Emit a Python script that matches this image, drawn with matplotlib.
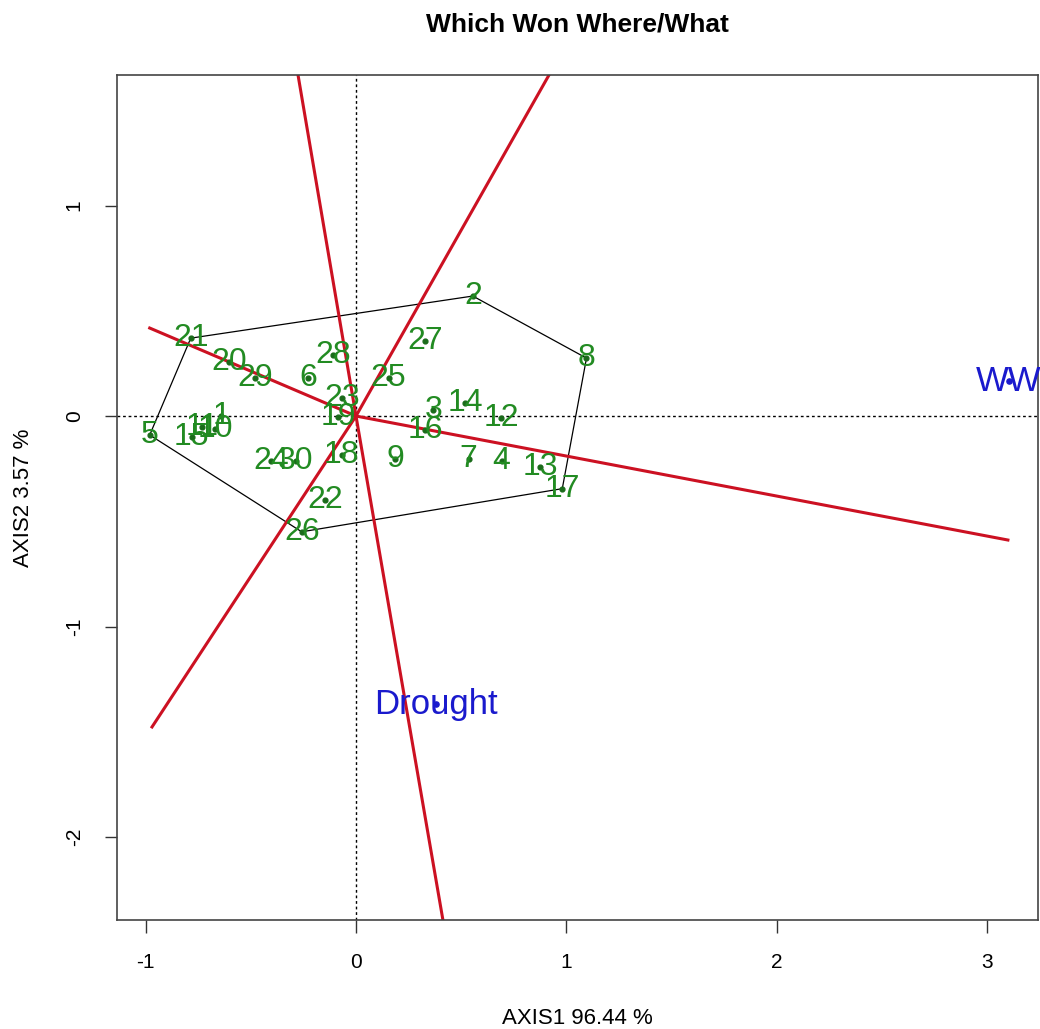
import matplotlib
matplotlib.use("Agg")
import matplotlib.pyplot as plt
import numpy as np

plt.rcParams['font.family'] = ['Liberation Sans', 'DejaVu Sans']
plt.rcParams['axes.unicode_minus'] = False

# genotype scores (AXIS1, AXIS2)
gen_labels = [str(i) for i in range(1, 31)]
gen_x = [-0.64, 0.555, 0.367, 0.692, -0.98, -0.226, 0.535, 1.095, 0.185, -0.67,
         -0.73, 0.69, 0.874, 0.518, -0.78, 0.328, 0.98, -0.068, -0.086, -0.603,
         -0.785, -0.148, -0.067, -0.404, 0.155, -0.258, 0.328, -0.108, -0.478, -0.285]
gen_y = [0.0, 0.57, 0.028, -0.215, -0.09, 0.18, -0.205, 0.275, -0.203, -0.06,
         -0.05, -0.01, -0.24, 0.06, -0.1, -0.067, -0.345, -0.185, -0.003, 0.257,
         0.37, -0.4, 0.084, -0.214, 0.18, -0.55, 0.355, 0.29, 0.18, -0.214]

# environment scores
env_labels = ['WW', 'Drought']
env_x = [3.1, 0.38]
env_y = [0.165, -1.37]

# convex hull, genotype order
hull = ['21', '2', '8', '17', '26', '5']

# end points of the rays drawn from the origin
ray_x = [-0.98, -0.34, 1.132, -0.969, 0.483, 3.097]
ray_y = [0.418, 2.0, 2.0, -1.477, -2.8, -0.589]

xticks = [-1, 0, 1, 2, 3]
yticks = [-2, -1, 0, 1]

fig = plt.figure(figsize=(10.4, 10.29), dpi=100)
ax = fig.add_axes([117 / 1040, 109 / 1029, 921 / 1040, 845 / 1029])
ax.set_xlim(-1.1354, 3.240)
ax.set_ylim(-2.394, 1.62)

ax.axhline(0, color='black', lw=1, ls=(0, (2, 2)))
ax.axvline(0, color='black', lw=1, ls=(0, (2, 2)))

idx = [gen_labels.index(h) for h in hull] + [gen_labels.index(hull[0])]
ax.plot(np.array(gen_x)[idx], np.array(gen_y)[idx], color='black', lw=0.9)

for rx, ry in zip(ray_x, ray_y):
    ax.plot([0, rx], [0, ry], color='#cc1122', lw=2.2)

ax.scatter(gen_x, gen_y, s=12, color='#1a6b1a', zorder=3)
for lab, x, y in zip(gen_labels, gen_x, gen_y):
    ax.text(x, y, lab, color='#228b22', fontsize=23, ha='center', va='center',
            zorder=4)

ax.scatter(env_x, env_y, s=14, color='#1a1acd', zorder=3)
for lab, x, y in zip(env_labels, env_x, env_y):
    ax.text(x, y, lab, color='#1a1acd', fontsize=25, ha='center', va='center',
            zorder=4)

ax.set_xticks(xticks)
ax.set_yticks(yticks)
ax.set_yticklabels([str(t) for t in yticks], rotation=90, va='center')
ax.tick_params(length=9, width=1, pad=15, labelsize=15, color='#333333')
for s in ax.spines.values():
    s.set_color('#444444')
    s.set_linewidth(1.2)

ax.set_xlabel('AXIS1 96.44 %', fontsize=16, labelpad=26)
ax.set_ylabel('AXIS2 3.57 %', fontsize=16, labelpad=22)
ax.set_title('Which Won Where/What', fontsize=19, fontweight='bold', pad=31)

fig.savefig('out.png', dpi=100)
